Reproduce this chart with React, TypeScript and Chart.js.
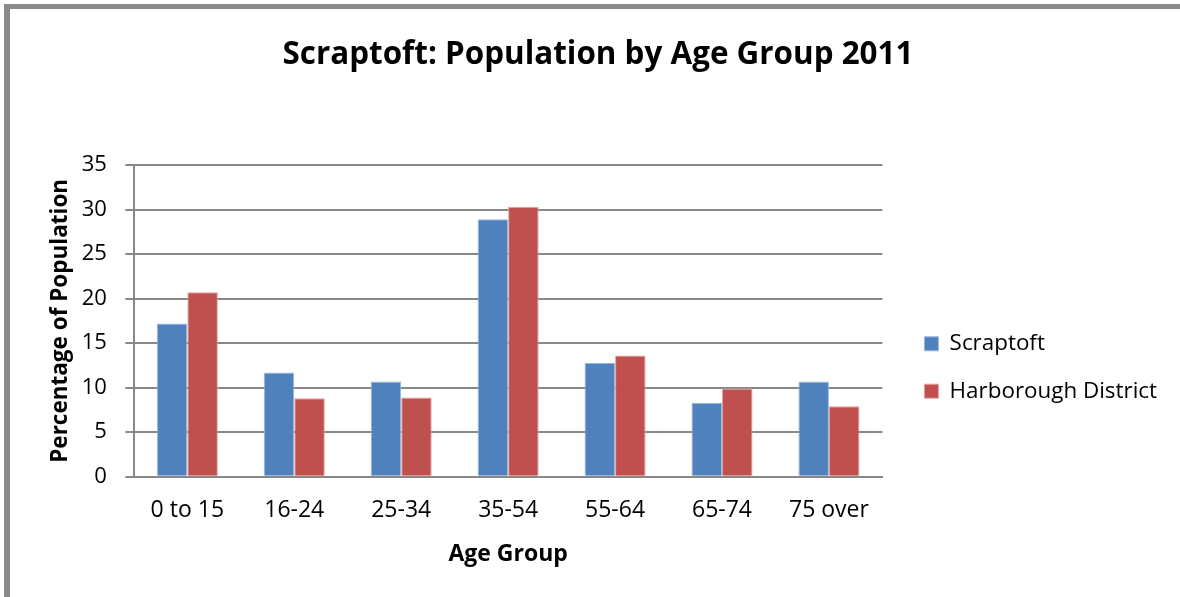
import React, { useEffect, useRef } from "react";
import { Chart, registerables } from "chart.js";

Chart.register(...registerables);

const categories = ["0 to 15", "16-24", "25-34", "35-54", "55-64", "65-74", "75 over"];
const scraptoft = [17.2, 11.7, 10.7, 28.9, 12.8, 8.3, 10.7];
const harborough = [20.7, 8.8, 8.9, 30.3, 13.6, 9.9, 7.9];
const seriesNames = ["Scraptoft", "Harborough District"];
const titleText = "Scraptoft: Population by Age Group 2011";
const xTitle = "Age Group";
const yTitle = "Percentage of Population";

const FONT = "'Open Sans', sans-serif";
const GRID = "#888888";
const LEGEND_GAP = 17;
const TITLE_SHIFT = 9;

// widen the legend box and shift its contents right, leaving a gap after the plot area;
// nudge the title to the centre of the original frame
const layoutTweaks = {
  id: "layoutTweaks",
  beforeLayout(chart: any) {
    const lg = chart.legend;
    if (lg && !lg.__gapPatched) {
      lg.__gapPatched = true;
      const origFit = lg.fit;
      lg.fit = function (this: any) {
        origFit.call(this);
        this.width += LEGEND_GAP;
      };
    }
  },
  afterLayout(chart: any) {
    if (chart.legend) chart.legend.left += LEGEND_GAP;
    const tb = chart.titleBlock;
    if (tb) {
      tb.left += TITLE_SHIFT;
      tb.right += TITLE_SHIFT;
    }
  },
};

export default function App() {
  const ref = useRef<HTMLCanvasElement | null>(null);

  useEffect(() => {
    if (!ref.current) return;
    const chart = new Chart(ref.current, {
      type: "bar",
      data: {
        labels: categories,
        datasets: [
          {
            label: seriesNames[0],
            data: scraptoft,
            backgroundColor: "#4F81BD",
            borderColor: "#9cb8dc",
            borderWidth: 1,
            categoryPercentage: 0.571,
            barPercentage: 1,
          },
          {
            label: seriesNames[1],
            data: harborough,
            backgroundColor: "#C0504D",
            borderColor: "#e0a3a1",
            borderWidth: 1,
            categoryPercentage: 0.571,
            barPercentage: 1,
          },
        ],
      },
      plugins: [layoutTweaks],
      options: {
        animation: false,
        responsive: false,
        maintainAspectRatio: false,
        layout: { padding: 0 },
        plugins: {
          title: {
            display: true,
            text: titleText,
            color: "#000",
            font: { family: FONT, size: 31.4, weight: "bold", lineHeight: 1.2 },
            padding: { top: 26.5, bottom: 90.8 },
          },
          legend: {
            position: "right",
            align: "center",
            labels: {
              color: "#000",
              font: { family: FONT, size: 22.4 },
              boxWidth: 14,
              boxHeight: 14,
              padding: 25,
            },
          },
          tooltip: { enabled: false },
        },
        scales: {
          x: {
            grid: { display: false, drawTicks: false },
            border: { display: true, color: GRID, width: 2 },
            ticks: {
              color: "#000",
              font: { family: FONT, size: 23, lineHeight: 1.0 },
              padding: 22,
              maxRotation: 0,
            },
            title: {
              display: true,
              text: xTitle,
              color: "#000",
              font: { family: FONT, size: 23, weight: "bold", lineHeight: 0.6 },
              padding: { top: 3.5, bottom: 164 },
            },
          },
          y: {
            min: 0,
            max: 35,
            ticks: {
              stepSize: 5,
              color: "#000",
              font: { family: FONT, size: 22 },
              padding: 18.5,
            },
            grid: {
              color: GRID,
              lineWidth: 2,
              drawTicks: true,
              tickLength: 8.5,
            },
            border: { display: true, color: GRID, width: 2 },
            title: {
              display: true,
              text: yTitle,
              color: "#000",
              font: { family: FONT, size: 22.5, weight: "bold", lineHeight: 0.2 },
              padding: { top: 47.7, bottom: 0 },
            },
          },
        },
      },
    } as any);
    return () => chart.destroy();
  }, []);

  return (
    <div
      style={{
        position: "fixed",
        left: 0,
        top: 0,
        width: 1180,
        height: 597,
        overflow: "hidden",
        background: "#fff",
      }}
    >
      <div
        style={{
          position: "absolute",
          left: 4,
          top: 4,
          width: 1170,
          height: 593,
          borderLeft: "6px solid #8a8a8a",
          borderTop: "5px solid #8a8a8a",
        }}
      />
      <canvas
        ref={ref}
        width={1156}
        height={715}
        style={{ position: "absolute", left: 11, top: 10, width: 1156, height: 715 }}
      />
    </div>
  );
}
